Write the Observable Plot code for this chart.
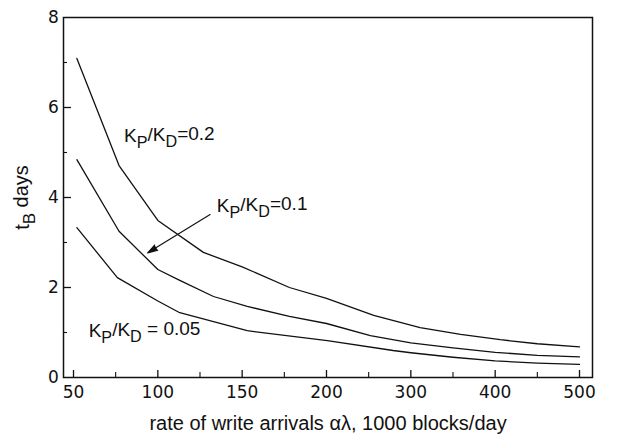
<!DOCTYPE html>
<html>
<head>
<meta charset="utf-8">
<script src="https://cdn.jsdelivr.net/npm/d3@7"></script>
<script src="https://cdn.jsdelivr.net/npm/@observablehq/plot@0.6"></script>
<style>
  html, body { margin: 0; padding: 0; background: #fff; }
  #chart svg { display: block; }
</style>
</head>
<body>
<div id="chart"></div>
<script>
// ---- data ----
const xTicks = [50, 100, 150, 200, 300, 400, 500];
const xMinor = [75, 125, 175, 250, 350, 450];
const yTicks = [0, 2, 4, 6, 8];
const yMinor = [1, 3, 5, 7];

const rate02 = [52, 77, 100, 127, 150, 178, 200, 256, 311, 359, 406, 450, 500];
const tB02   = [7.09, 4.71, 3.49, 2.78, 2.46, 2.0, 1.76, 1.38, 1.11, 0.96, 0.84, 0.75, 0.68];

const rate01 = [52, 77, 100, 113, 133, 153, 178, 200, 252, 300, 350, 400, 450, 500];
const tB01   = [4.84, 3.25, 2.4, 2.16, 1.8, 1.58, 1.36, 1.2, 0.93, 0.77, 0.66, 0.56, 0.49, 0.46];

const rate005 = [52, 76, 100, 113, 153, 201, 279, 300, 350, 400, 450, 500];
const tB005   = [3.33, 2.22, 1.7, 1.44, 1.04, 0.82, 0.6, 0.55, 0.45, 0.37, 0.32, 0.29];

const labelText = ["K_P/K_D=0.2", "K_P/K_D=0.1", "K_P/K_D = 0.05"];
const labelRate = [80, 135, 59];
const labelTB   = [5.37, 3.82, 1.04];

const arrowFrom = [131, 3.62];
const arrowTo   = [94, 2.77];

const xTitle = "rate of write arrivals αλ, 1000 blocks/day";
const yTitle = "t_B days";

// ---- build tables ----
const series = [
  ...rate02.map((r, i) => ({k: "0.2", rate: r, t: tB02[i]})),
  ...rate01.map((r, i) => ({k: "0.1", rate: r, t: tB01[i]})),
  ...rate005.map((r, i) => ({k: "0.05", rate: r, t: tB005[i]}))
];
const labels = labelText.map((s, i) => ({s, rate: labelRate[i], t: labelTB[i]}));

const W = 618, H = 439;
const mL = 63, mR = 26, mT = 17, mB = 62;
const axisFont = "'DejaVu Sans', sans-serif";
const labFont = "'Liberation Sans', Arial, sans-serif";

const plot = Plot.plot({
  width: W, height: H,
  marginLeft: mL, marginRight: mR, marginTop: mT, marginBottom: mB,
  style: {background: "#fff", color: "#111", fontFamily: axisFont},
  x: {type: "linear", domain: xTicks, insetLeft: 10, insetRight: 13, axis: null},
  y: {domain: [0, 8], axis: null},
  marks: [
    Plot.frame({stroke: "#111", strokeWidth: 1.5}),
    // inward ticks
    Plot.tickX(xTicks, {x: d => d, insetTop: H - mT - mB - 7, stroke: "#111", strokeWidth: 1.3}),
    Plot.tickX(xMinor, {x: d => d, insetTop: H - mT - mB - 5, stroke: "#111", strokeWidth: 1.1}),
    Plot.tickY(yTicks.slice(1, -1), {y: d => d, insetRight: W - mL - mR - 8, stroke: "#111", strokeWidth: 1.3}),
    Plot.tickY(yMinor, {y: d => d, insetRight: W - mL - mR - 4, stroke: "#111", strokeWidth: 1.1}),
    // tick labels
    Plot.text(xTicks, {x: d => d, frameAnchor: "bottom", lineAnchor: "middle", textAnchor: "middle", dy: 15, text: d => String(d), fontSize: 17, fill: "#111"}),
    Plot.text(yTicks, {y: d => d, frameAnchor: "left", textAnchor: "middle", lineAnchor: "middle", dx: -10, text: d => String(d), fontSize: 17, fill: "#111"}),
    // axis titles
    Plot.text([xTitle], {frameAnchor: "bottom", lineAnchor: "middle", textAnchor: "middle", dy: 46, text: d => d, fontSize: 20, fill: "#111", fontFamily: labFont}),
    Plot.text([yTitle], {frameAnchor: "left", textAnchor: "middle", lineAnchor: "middle", dx: -41, rotate: -90, text: d => d, fontSize: 20, fill: "#111", fontFamily: labFont}),
    // curves
    Plot.line(series, {x: "rate", y: "t", z: "k", stroke: "#111", strokeWidth: 1.3}),
    // annotations
    Plot.text(labels, {x: "rate", y: "t", text: "s", textAnchor: "start", fontSize: 19, fill: "#111", fontFamily: labFont}),
    Plot.arrow([{a: arrowFrom, b: arrowTo}], {
      x1: d => d.a[0], y1: d => d.a[1], x2: d => d.b[0], y2: d => d.b[1],
      stroke: "#111", fill: "#111", strokeWidth: 1.2, headLength: 13, headAngle: 34
    })
  ]
});

// subscripts: "X_Y" -> X with subscript Y
plot.querySelectorAll("text").forEach(el => {
  const s = el.textContent;
  if (!s.includes("_")) return;
  const parts = s.split(/_(\w)/);
  el.textContent = "";
  parts.forEach((p, i) => {
    if (!p) return;
    const ts = document.createElementNS("http://www.w3.org/2000/svg", "tspan");
    ts.textContent = p;
    if (i % 2 === 1) {
      ts.setAttribute("dy", "0.38em");
      ts.setAttribute("font-size", "85%");
    } else if (i > 0) {
      ts.setAttribute("dy", "-0.38em");
    }
    el.appendChild(ts);
  });
});

document.getElementById("chart").appendChild(plot);
</script>
</body>
</html>
